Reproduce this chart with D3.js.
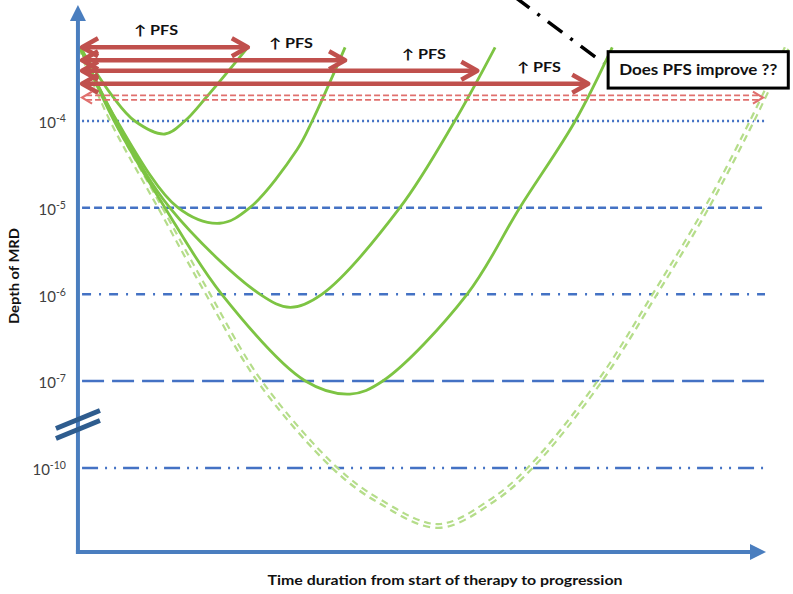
<!DOCTYPE html>

<head>
    <meta charset="utf-8">
    <style>
        body {
            margin: 0;
            background-color: #fff;
            font-family: Lato, "Open Sans", sans-serif;
        }

        svg {
            display: block;
        }
    </style>
</head>

<body>
    <div id="chart-area"></div>

    <script src="https://d3js.org/d3.v7.min.js"></script>
    <script>
        var width = 793,
            height = 594

        // MRD depth levels (log10) drawn as reference lines
        var levels = [-4, -5, -6, -7, -10]
        var levelDash = ["2,3", "8,4", "9,8,2,8", "22,8", "16,7,2,7,2,7"]

        // MRD curves: [time, log10 depth]
        var curve1 = [[0, -3.15], [4.8, -3.72], [8, -4], [12.4, -4.15], [15.3, -4], [18.5, -3.72], [24.5, -3.15]]
        var curve2 = [[0, -3.15], [5.4, -4], [14.3, -5], [20.4, -5.18], [24.8, -5], [31.7, -4.33], [33.9, -4], [38.7, -3.15]]
        var curve3 = [[0, -3.15], [5.3, -4], [13.1, -5], [26.3, -6], [30.7, -6.15], [35.3, -6], [46.7, -5], [54.7, -4], [60.6, -3.15]]
        var curve4 = [[0, -3.15], [5, -4], [12.4, -5], [20.7, -6], [32.9, -7], [39.4, -7.45], [44.2, -7], [56.5, -6], [64.2, -5], [72.3, -4], [77.7, -3.15]]
        var deepCurve = [[0, -3.15], [4.7, -4], [11.7, -5], [18.7, -6], [26.2, -7], [37.2, -10], [43.4, -11.1], [52.3, -12], [60.3, -11.1], [65.7, -10], [75.9, -7], [83.9, -6], [91.5, -5], [98.1, -4], [103.2, -3.15]]

        // PFS arrows
        var pfsEnd = [24.5, 38.7, 58.0, 74.2]
        var pfsLevel = [-3.15, -3.3, -3.42, -3.57]
        var pfsLabelT = [11.1, 30.8, 50.2, 67.0]
        var deepEnd = 99.7,
            deepLevel = -3.73

        // callout
        var calloutT = [77.1, 103.4]
        var calloutLevel = [-3.2, -3.62]
        var pointerT = [63.5, 76.4]
        var pointerLevel = [-2.57, -3.33]
        var breakLevel = -8.5

        var x = d3.scaleLinear().domain([0, 100]).range([80, 765])
        var y = d3.scaleLinear().domain([-4, -7, -10]).range([121, 381, 468])

        var axisColor = "#4a7ebf"

        var svg = d3.select("#chart-area").append("svg")
            .attr("width", width)
            .attr("height", height)

        // reference lines
        svg.append("g")
            .selectAll("line")
            .data(levels)
            .join("line")
            .attr("x1", x(0.3))
            .attr("x2", x(100))
            .attr("y1", d => y(d))
            .attr("y2", d => y(d))
            .attr("stroke", "#4472c4")
            .attr("stroke-width", 2.5)
            .attr("stroke-dasharray", (d, i) => levelDash[i])

        // y tick labels 10^n
        var yAxis = svg.append("g")
            .attr("transform", "translate(" + x(-0.3) + ",0)")
            .call(d3.axisLeft(y).tickValues(levels).tickSize(0).tickPadding(12))
        yAxis.select(".domain").remove()
        yAxis.selectAll(".tick text")
            .attr("font-family", "Lato, sans-serif")
            .attr("font-size", 15)
            .attr("fill", "#404040")
            .attr("dy", "0.45em")
            .text("10")
            .append("tspan")
            .attr("dy", "-0.55em")
            .attr("font-size", 10.5)
            .text(d => String(d))

        var line = d3.line()
            .x(d => x(d[0]))
            .y(d => y(d[1]))
            .curve(d3.curveCatmullRom.alpha(0.5))

        // deepest response: dashed double line
        svg.append("path")
            .attr("d", line(deepCurve))
            .attr("fill", "none")
            .attr("stroke", "#b5dd8a")
            .attr("stroke-width", 6)
            .attr("stroke-dasharray", "7,5")
        svg.append("path")
            .attr("d", line(deepCurve))
            .attr("fill", "none")
            .attr("stroke", "#fff")
            .attr("stroke-width", 1.6)

        svg.append("g")
            .selectAll("path")
            .data([curve1, curve2, curve3, curve4])
            .join("path")
            .attr("d", line)
            .attr("fill", "none")
            .attr("stroke", "#7dc443")
            .attr("stroke-width", 2.8)

        function chevron(tx, ty, dir, dx, dy) {
            return "M" + (tx - dir * dx) + "," + (ty - dy) + "L" + tx + "," + ty + "L" + (tx - dir * dx) + "," + (ty + dy)
        }

        // red PFS arrows
        var arrows = svg.append("g")
            .attr("fill", "none")
            .attr("stroke", "#c0504d")
            .attr("stroke-width", 4.5)
            .attr("stroke-linejoin", "round")
        pfsEnd.forEach((t, i) => {
            var yy = y(pfsLevel[i]),
                x0 = x(0.3),
                x1 = x(t)
            arrows.append("line")
                .attr("x1", x0 + 2).attr("x2", x1 - 2)
                .attr("y1", yy).attr("y2", yy)
            arrows.append("path").attr("d", chevron(x0, yy, -1, 16, 9))
            arrows.append("path").attr("d", chevron(x1, yy, 1, 16, 9))
            svg.append("text")
                .attr("x", x(pfsLabelT[i]))
                .attr("y", yy - 12)
                .attr("text-anchor", "middle")
                .attr("font-size", 13.5)
                .attr("font-weight", "bold")
                .attr("fill", "#111")
                .attr("textLength", 44)
                .attr("lengthAdjust", "spacingAndGlyphs")
                .text("↑ PFS")
        })

        // dashed double red arrow
        var dy = y(deepLevel)
        var deep = svg.append("g")
            .attr("fill", "none")
            .attr("stroke", "#e0706e")
            .attr("stroke-width", 1.8)
        ;[-2.3, 2.3].forEach(o => {
            deep.append("line")
                .attr("x1", x(0.3) + 4).attr("x2", x(deepEnd) - 2)
                .attr("y1", dy + o).attr("y2", dy + o)
                .attr("stroke-dasharray", "6,3")
        })
        deep.append("path").attr("d", chevron(x(0.3), dy, -1, 10, 6)).attr("stroke-width", 2.2)
        deep.append("path").attr("d", chevron(x(deepEnd), dy, 1, 10, 6)).attr("stroke-width", 2.2)

        // axes with arrow heads
        var x0 = x(-0.3),
            yBase = 552
        svg.append("line")
            .attr("x1", x0).attr("x2", x0)
            .attr("y1", yBase + 2).attr("y2", 20)
            .attr("stroke", axisColor).attr("stroke-width", 4)
        svg.append("path")
            .attr("d", "M" + x0 + ",5L" + (x0 - 8) + ",21L" + (x0 + 8) + ",21Z")
            .attr("fill", axisColor)
        svg.append("line")
            .attr("x1", x0 - 2).attr("x2", 752)
            .attr("y1", yBase).attr("y2", yBase)
            .attr("stroke", axisColor).attr("stroke-width", 4)
        svg.append("path")
            .attr("d", "M766," + yBase + "L750," + (yBase - 8) + "L750," + (yBase + 8) + "Z")
            .attr("fill", axisColor)

        // axis break
        var by = y(breakLevel)
        svg.append("g")
            .attr("stroke", "#2e5c8e")
            .attr("stroke-width", 5)
            .selectAll("line")
            .data([-5, 5])
            .join("line")
            .attr("x1", x0 - 22).attr("x2", x0 + 22)
            .attr("y1", d => by + d + 9).attr("y2", d => by + d - 9)

        // pointer and callout
        svg.append("line")
            .attr("x1", x(pointerT[0])).attr("y1", y(pointerLevel[0]))
            .attr("x2", x(pointerT[1])).attr("y2", y(pointerLevel[1]))
            .attr("stroke", "#000")
            .attr("stroke-width", 3.5)
            .attr("stroke-dasharray", "18,10,3,10")
        svg.append("rect")
            .attr("x", x(calloutT[0]))
            .attr("y", y(calloutLevel[0]))
            .attr("width", x(calloutT[1]) - x(calloutT[0]))
            .attr("height", y(calloutLevel[1]) - y(calloutLevel[0]))
            .attr("fill", "#fff")
            .attr("stroke", "#000")
            .attr("stroke-width", 3)
        svg.append("text")
            .attr("x", (x(calloutT[0]) + x(calloutT[1])) / 2)
            .attr("y", (y(calloutLevel[0]) + y(calloutLevel[1])) / 2 + 5)
            .attr("text-anchor", "middle")
            .attr("font-size", 15)
            .attr("font-weight", "bold")
            .attr("fill", "#111")
            .attr("textLength", 158)
            .attr("lengthAdjust", "spacingAndGlyphs")
            .text("Does PFS improve ??")

        // axis titles
        svg.append("text")
            .attr("x", 445)
            .attr("y", 585)
            .attr("text-anchor", "middle")
            .attr("font-size", 14)
            .attr("font-weight", "bold")
            .attr("fill", "#111")
            .attr("textLength", 355)
            .attr("lengthAdjust", "spacingAndGlyphs")
            .text("Time duration from start of therapy to progression")
        svg.append("text")
            .attr("transform", "translate(19,276) rotate(-90)")
            .attr("text-anchor", "middle")
            .attr("font-size", 13)
            .attr("font-weight", "bold")
            .attr("fill", "#111")
            .attr("textLength", 96)
            .attr("lengthAdjust", "spacingAndGlyphs")
            .text("Depth of MRD")
    </script>
</body>
